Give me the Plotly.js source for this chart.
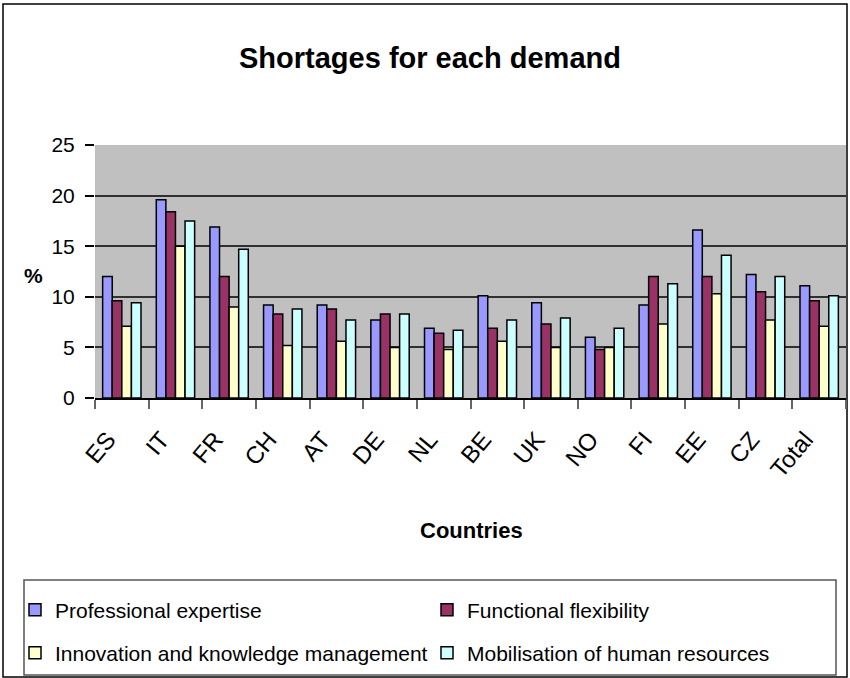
<!DOCTYPE html>
<html>
<head>
<meta charset="utf-8">
<script src="https://cdn.plot.ly/plotly-3.0.1.min.js"></script>
<style>
  html, body { margin: 0; padding: 0; background: #fff; }
  #chart { width: 850px; height: 678px; }
</style>
</head>
<body>
<div id="chart"></div>
<script>
// ---- data ----
const countries = ["ES","IT","FR","CH","AT","DE","NL","BE","UK","NO","FI","EE","CZ","Total"];
const professionalExpertise = [12.0, 19.6, 16.9, 9.2, 9.2, 7.7, 6.9, 10.1, 9.4, 6.0, 9.2, 16.6, 12.2, 11.1];
const functionalFlexibility = [9.6, 18.4, 12.0, 8.3, 8.8, 8.3, 6.4, 6.9, 7.3, 4.8, 12.0, 12.0, 10.5, 9.6];
const innovationKnowledge = [7.1, 15.0, 9.0, 5.2, 5.6, 5.0, 4.8, 5.6, 5.0, 5.0, 7.3, 10.3, 7.7, 7.1];
const mobilisationHR = [9.4, 17.5, 14.7, 8.8, 7.7, 8.3, 6.7, 7.7, 7.9, 6.9, 11.3, 14.1, 12.0, 10.1];
const seriesNames = ["Professional expertise", "Functional flexibility",
                     "Innovation and knowledge management", "Mobilisation of human resources"];
const yTickVals = [0, 5, 10, 15, 20, 25];

// ---- layout geometry (pixels) ----
const W = 850, H = 678;
const L = 95, R = 4, T = 145, B = 280;
const PW = W - L - R, PH = H - T - B;
const px = x => (x - L) / PW;
const py = y => (H - B - y) / PH;

const font = "Liberation Sans, Arial, sans-serif";
const colors = ["#9999FF", "#993366", "#FFFFCC", "#CCFFFF"];
const values = [professionalExpertise, functionalFlexibility, innovationKnowledge, mobilisationHR];
const legendIds = ["legend", "legend2", "legend3", "legend4"];

const traces = values.map((v, i) => ({
  type: "bar",
  name: seriesNames[i],
  x: countries,
  y: v,
  marker: { color: colors[i], line: { color: "#000", width: 1.5 } },
  legend: legendIds[i],
  hoverinfo: "x+y+name"
}));

const legendPos = [[15, 610], [427, 610], [15, 653], [427, 653]];
const legendCommon = {
  orientation: "h",
  xref: "paper", yref: "paper",
  xanchor: "left", yanchor: "middle",
  bgcolor: "rgba(0,0,0,0)",
  borderwidth: 0,
  font: { family: font, size: 21, color: "#000" }
};

const layout = {
  width: W, height: H,
  margin: { l: L, r: R, t: T, b: B, pad: 0 },
  paper_bgcolor: "#fff",
  plot_bgcolor: "#C0C0C0",
  barmode: "group",
  bargap: 0.285,
  bargroupgap: 0,
  showlegend: true,
  title: {
    text: "Shortages for each demand",
    x: 430 / W, xanchor: "center",
    y: 1 - 58 / H, yanchor: "middle",
    font: { family: font, size: 29, weight: "bold", color: "#000" }
  },
  xaxis: {
    type: "category",
    tickson: "boundaries",
    ticks: "outside", ticklen: 9, tickwidth: 1.5, tickcolor: "#666",
    showline: true, linecolor: "#000", linewidth: 2,
    showgrid: false, zeroline: false,
    tickangle: -50,
    ticklabelstandoff: 16,
    ticklabelshift: -14,
    tickfont: { family: font, size: 24, color: "#000" },
    automargin: false
  },
  yaxis: {
    range: [0, 25],
    tickvals: yTickVals,
    ticks: "outside", ticklen: 9, tickwidth: 1.5, tickcolor: "#000",
    showline: false, zeroline: false,
    showgrid: true, gridcolor: "#303030", gridwidth: 1.5,
    ticklabelstandoff: 6,
    tickfont: { family: font, size: 21, color: "#000" },
    automargin: false
  },
  annotations: [
    { text: "%", xref: "paper", yref: "paper", x: px(33), y: py(275),
      showarrow: false, xanchor: "center", yanchor: "middle",
      font: { family: font, size: 21, weight: "bold", color: "#000" } },
    { text: "Countries", xref: "paper", yref: "paper", x: px(471), y: py(530),
      showarrow: false, xanchor: "center", yanchor: "middle",
      font: { family: font, size: 22, weight: "bold", color: "#000" } }
  ],
  shapes: [
    { type: "rect", xref: "paper", yref: "paper", layer: "below",
      x0: px(3), x1: px(847), y0: py(4), y1: py(677),
      line: { color: "#000", width: 1.5 }, fillcolor: "rgba(0,0,0,0)" },
    { type: "rect", xref: "paper", yref: "paper", layer: "below",
      x0: px(24), x1: px(836), y0: py(580), y1: py(675),
      line: { color: "#555", width: 1.5 }, fillcolor: "#fff" }
  ]
};
legendIds.forEach((id, i) => {
  layout[id] = Object.assign({}, legendCommon, { x: px(legendPos[i][0]), y: py(legendPos[i][1]) });
});

Plotly.newPlot("chart", traces, layout, { displayModeBar: false, responsive: false });
</script>
</body>
</html>
